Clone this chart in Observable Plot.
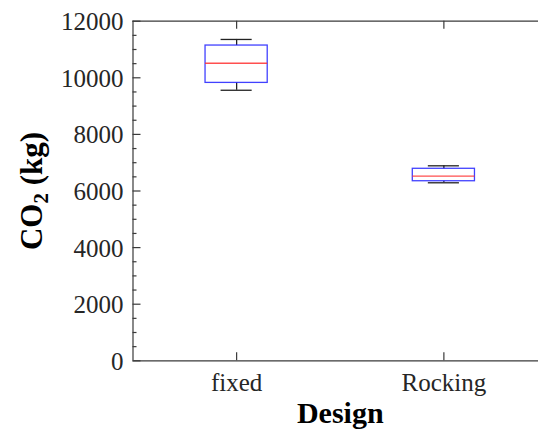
<!DOCTYPE html>
<html>
<head>
<meta charset="utf-8">
<script src="https://cdn.jsdelivr.net/npm/d3@7"></script>
<script src="https://cdn.jsdelivr.net/npm/@observablehq/plot@0.6"></script>
<style>
  html, body { margin: 0; padding: 0; background: #fff; overflow: hidden; }
</style>
</head>
<body>
<div id="chart"></div>
<script>
// Box-plot summary of CO2 per design (kg)
const designs = ["fixed", "Rocking"];
const whiskerLow = [9560, 6290];
const q1 = [9820, 6345];
const median = [10515, 6525];
const q3 = [11140, 6785];
const whiskerHigh = [11355, 6890];

const yMajorTicks = [0, 2000, 4000, 6000, 8000, 10000, 12000];
const yMinorTicks = [500, 1000, 1500, 2500, 3000, 3500, 4500, 5000, 5500,
                     6500, 7000, 7500, 8500, 9000, 9500, 10500, 11000, 11500];

(function () {
  // Frame geometry (pixels)
  const W = 538, H = 432;
  const fLeft = 132.5, fRight = 547, fTop = 20.7, fBottom = 360.3;
  const xDomain = [0.5, 2.5], yDomain = [0, 12000];
  const pxX = (fRight - fLeft) / (xDomain[1] - xDomain[0]);
  const pxY = (fBottom - fTop) / (yDomain[1] - yDomain[0]);
  const major = 8, minor = 4;

  const idx = designs.map((d, i) => i);
  const pos = i => i + 1;
  const boxHalf = 0.15, capHalf = 0.075;

  const serif = "'Liberation Serif', 'Times New Roman', Times, serif";
  const axisColor = "#3a3a3a";
  const textColor = "#262626";

  const chart = Plot.plot({
    width: W,
    height: H,
    marginLeft: fLeft,
    marginRight: 0,
    marginTop: fTop,
    marginBottom: H - fBottom,
    style: { fontFamily: serif, background: "#fff", overflow: "hidden" },
    x: { type: "linear", domain: xDomain, range: [fLeft, fRight], axis: null },
    y: { type: "linear", domain: yDomain, range: [fBottom, fTop], axis: null },
    marks: [
      // axes box
      Plot.ruleY(yDomain, { stroke: axisColor, strokeWidth: 1.2 }),
      Plot.ruleX(xDomain, { stroke: axisColor, strokeWidth: 1.2 }),
      // y ticks (inward, left and right)
      Plot.ruleY(yMajorTicks, { y: d => d, x1: xDomain[0], x2: xDomain[0] + major / pxX, stroke: axisColor, strokeWidth: 1.2 }),
      Plot.ruleY(yMinorTicks, { y: d => d, x1: xDomain[0], x2: xDomain[0] + minor / pxX, stroke: axisColor, strokeWidth: 1.2 }),
      Plot.ruleY(yMajorTicks, { y: d => d, x1: xDomain[1] - major / pxX, x2: xDomain[1], stroke: axisColor, strokeWidth: 1.2 }),
      Plot.ruleY(yMinorTicks, { y: d => d, x1: xDomain[1] - minor / pxX, x2: xDomain[1], stroke: axisColor, strokeWidth: 1.2 }),
      // x ticks (inward, bottom and top)
      Plot.ruleX(idx, { x: pos, y1: yDomain[0], y2: yDomain[0] + major / pxY, stroke: axisColor, strokeWidth: 1.2 }),
      Plot.ruleX(idx, { x: pos, y1: yDomain[1] - major / pxY, y2: yDomain[1], stroke: axisColor, strokeWidth: 1.2 }),
      // whiskers
      Plot.ruleX(idx, { x: pos, y1: i => q3[i], y2: i => whiskerHigh[i], stroke: "#222", strokeWidth: 1.3 }),
      Plot.ruleX(idx, { x: pos, y1: i => q1[i], y2: i => whiskerLow[i], stroke: "#222", strokeWidth: 1.3 }),
      Plot.ruleY(idx, { y: i => whiskerHigh[i], x1: i => pos(i) - capHalf, x2: i => pos(i) + capHalf, stroke: "#222", strokeWidth: 1.3 }),
      Plot.ruleY(idx, { y: i => whiskerLow[i], x1: i => pos(i) - capHalf, x2: i => pos(i) + capHalf, stroke: "#222", strokeWidth: 1.3 }),
      // boxes
      Plot.rect(idx, { x1: i => pos(i) - boxHalf, x2: i => pos(i) + boxHalf, y1: i => q1[i], y2: i => q3[i],
                       fill: "none", stroke: "#2020ff", strokeWidth: 1.3, strokeOpacity: 0.85 }),
      // medians
      Plot.ruleY(idx, { y: i => median[i], x1: i => pos(i) - boxHalf, x2: i => pos(i) + boxHalf, stroke: "#ff3030", strokeWidth: 1.3, strokeOpacity: 0.85 }),
      // tick labels
      Plot.text(yMajorTicks, { y: d => d, text: d => String(d), frameAnchor: "left", dx: -9.5, dy: 1,
                               textAnchor: "end", fontSize: 25, fill: textColor }),
      Plot.text(idx, { x: pos, text: i => designs[i], frameAnchor: "bottom", lineAnchor: "bottom", dy: 30,
                       fontSize: 25, fill: textColor }),
      // axis titles
      Plot.text(["Design"], { x: 1.5, text: d => d, frameAnchor: "bottom", lineAnchor: "bottom", dy: 62,
                              fontSize: 30, fontWeight: "bold", fill: "#000" }),
      Plot.text(["CO2 (kg)"], { y: 6000, text: d => d, frameAnchor: "left", dx: 41 - fLeft, rotate: -90,
                                textAnchor: "middle", lineAnchor: "bottom", fontSize: 31, fontWeight: "bold", fill: "#000" })
    ]
  });

  // subscript for the y-axis title
  d3.select(chart).selectAll("text")
    .filter(function () { return this.textContent === "CO2 (kg)"; })
    .each(function () {
      const t = d3.select(this);
      t.text("CO");
      t.append("tspan").attr("font-size", 21).attr("dy", 6).text("2");
      t.append("tspan").attr("dy", -6).text(" (kg)");
    });

  document.getElementById("chart").appendChild(chart);
})();
</script>
</body>
</html>
